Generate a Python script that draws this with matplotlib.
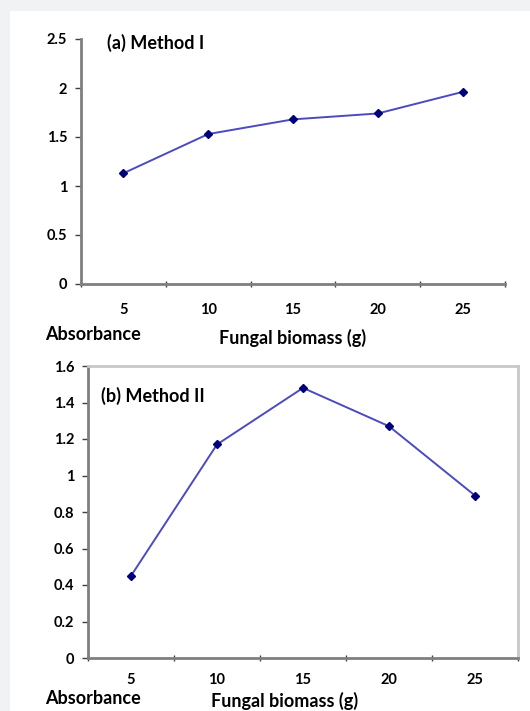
import matplotlib
matplotlib.use("Agg")
import matplotlib.pyplot as plt
from matplotlib.patches import Rectangle

# data
biomass = ["5", "10", "15", "20", "25"]
method1 = [1.13, 1.53, 1.68, 1.74, 1.96]
method2 = [0.45, 1.17, 1.48, 1.27, 0.89]

yticks1 = [0, 0.5, 1, 1.5, 2, 2.5]
yticks2 = [0, 0.2, 0.4, 0.6, 0.8, 1, 1.2, 1.4, 1.6]

plt.rcParams["font.family"] = ["Lato", "DejaVu Sans"]
plt.rcParams["font.weight"] = "bold"

line_color = "#4b4bbd"
marker_color = "#00007a"
axis_color = "#7f7f7f"
tick_size = 10.5
label_size = 13


def draw_panel(ax, values, yticks, title, box, title_xy, xpad):
    xs = list(range(1, len(values) + 1))
    ax.plot(xs, values, color=line_color, linewidth=1.4, zorder=3)
    ax.plot(xs, values, linestyle="none", marker="D", markersize=4,
            color=marker_color, zorder=4)

    ax.set_xlim(0.5, len(values) + 0.5)
    ax.set_ylim(yticks[0], yticks[-1])
    ax.set_yticks(yticks)
    ax.set_yticklabels([f"{t:g}" for t in yticks], fontsize=tick_size)

    # Excel style: tick marks between categories, labels centred under points
    ax.set_xticks([x + 0.5 for x in range(len(values) + 1)])
    ax.set_xticklabels([])
    ax.set_xticks(xs, minor=True)
    ax.set_xticklabels(biomass, minor=True, fontsize=tick_size)
    ax.tick_params(axis="x", which="minor", length=0, pad=xpad)
    ax.tick_params(axis="x", which="major", direction="inout", length=5,
                   width=1, color="#404040")
    ax.tick_params(axis="y", direction="out", length=4, width=1,
                   color="#404040", pad=6)

    for side in ["left", "bottom"]:
        ax.spines[side].set_color(axis_color)
        ax.spines[side].set_linewidth(2)
    for side in ["top", "right"]:
        if box:
            ax.spines[side].set_color("#c8c8c8")
            ax.spines[side].set_linewidth(2)
        else:
            ax.spines[side].set_visible(False)

    ax.set_facecolor("white")
    ax.text(title_xy[0], title_xy[1], title, transform=ax.transAxes,
            fontsize=label_size, ha="left", va="center")


fig = plt.figure(figsize=(5.3, 7.11), dpi=100)
fig.patch.set_facecolor("#f0f2f4")
fig.patches.append(
    Rectangle((10 / 530, 0), 1, 1 - 11 / 711, transform=fig.transFigure,
              facecolor="white", edgecolor="none", zorder=-5)
)

ax1 = fig.add_axes([81 / 530, 1 - 284 / 711, 424 / 530, 245 / 711])
draw_panel(ax1, method1, yticks1, "(a) Method I", False, (0.062, 0.985), 14)

ax2 = fig.add_axes([88 / 530, 1 - 658 / 711, 430 / 530, 292 / 711])
draw_panel(ax2, method2, yticks2, "(b) Method II", True, (0.03, 0.896), 11)

fig.text(45 / 530, 1 - 335 / 711, "Absorbance", fontsize=label_size,
         ha="left", va="center")
fig.text(293 / 530, 1 - 338 / 711, "Fungal biomass (g)",
         fontsize=label_size, ha="center", va="center")
fig.text(45 / 530, 1 - 699 / 711, "Absorbance", fontsize=label_size,
         ha="left", va="center")
fig.text(285 / 530, 1 - 701 / 711, "Fungal biomass (g)",
         fontsize=label_size, ha="center", va="center")

fig.savefig("out.png", dpi=100, facecolor=fig.get_facecolor())
